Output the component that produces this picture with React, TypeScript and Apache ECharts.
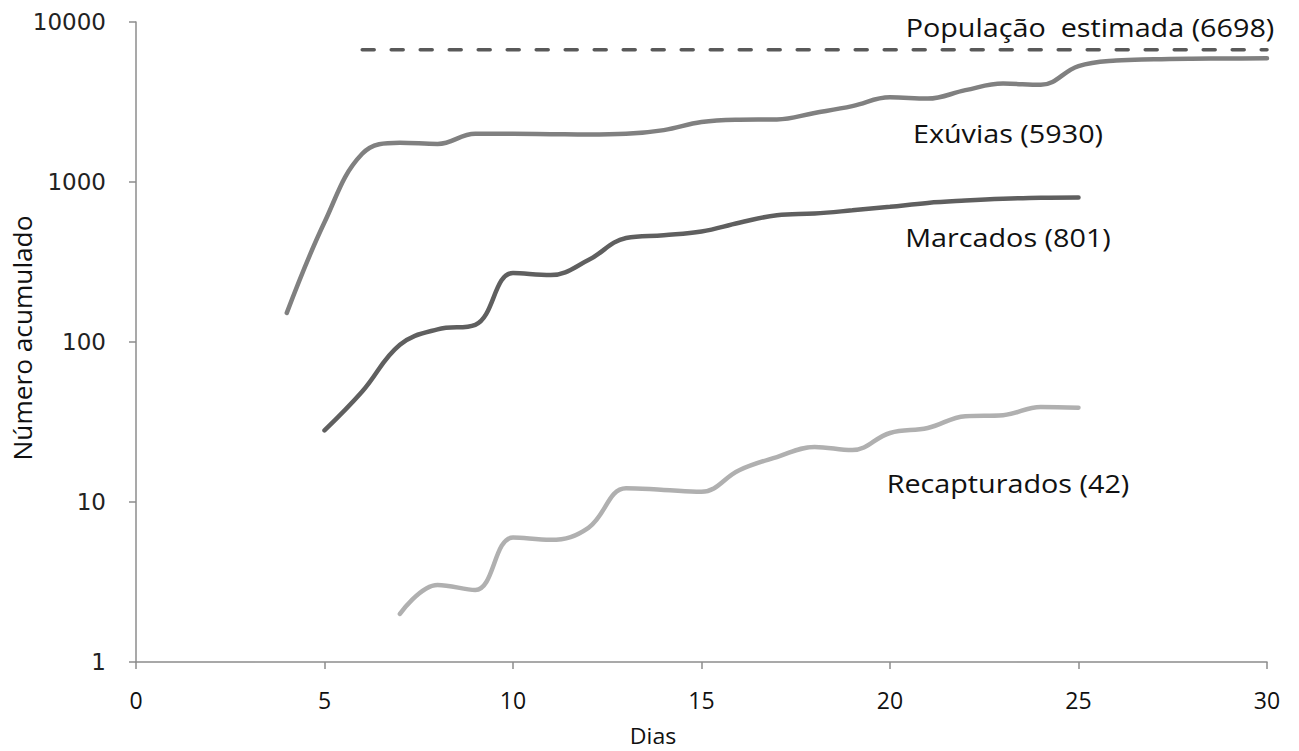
import React, { useEffect, useRef } from "react";
import * as echarts from "echarts";

const exuviasDays = [4, 5, 6, 7, 8, 9, 10, 11, 12, 13, 14, 15, 16, 17, 18, 19, 20, 21, 22, 23, 24, 25, 26, 27, 28, 29, 30];
const exuviasValues = [152, 560, 1500, 1760, 1730, 2000, 2000, 1990, 1980, 2000, 2110, 2370, 2450, 2460, 2700, 2980, 3380, 3320, 3750, 4120, 4050, 5300, 5750, 5850, 5900, 5920, 5930];

const marcadosDays = [5, 6, 7, 8, 9, 10, 11, 12, 13, 14, 15, 16, 17, 18, 19, 20, 21, 22, 23, 24, 25];
const marcadosValues = [28, 49, 96, 120, 128, 270, 262, 325, 447, 465, 490, 556, 620, 635, 665, 700, 740, 765, 785, 798, 801];

const recapDays = [7, 8, 9, 10, 11, 12, 13, 14, 15, 16, 17, 18, 19, 20, 21, 22, 23, 24, 25];
const recapValues = [2, 3.03, 2.82, 6.0, 5.8, 6.9, 12.2, 11.9, 11.6, 15.8, 19.1, 22.1, 21.1, 27, 29, 34.4, 34.9, 39.3, 38.8];

const populacaoDays = [6, 30];
const populacaoValue = 6698;

const yTicks = [1, 10, 100, 1000, 10000];

const labelPopulacao = "População  estimada (6698)";
const labelExuvias = "Exúvias (5930)";
const labelMarcados = "Marcados (801)";
const labelRecap = "Recapturados (42)";
const xAxisName = "Dias";
const yAxisName = "Número acumulado";

const pairs = (days: number[], vals: number[]) => days.map((d, i) => [d, vals[i]]);

export default function App() {
  const ref = useRef<HTMLDivElement>(null);
  useEffect(() => {
    if (!ref.current) return;
    const chart = echarts.init(ref.current, null, { renderer: "svg" });
    const textFont = "'Open Sans', sans-serif";
    const lbl = (text: string, x: number, y: number, size = 25, sx = 1.15, rotation = 0) => ({
      type: "text",
      x,
      y,
      scaleX: sx,
      rotation,
      style: {
        text,
        fill: "#111",
        font: `${size}px ${textFont}`,
        align: "center",
        verticalAlign: "middle",
      },
    });
    chart.setOption({
      animation: false,
      backgroundColor: "#fff",
      grid: { left: 136, right: 32, top: 22, bottom: 89, containLabel: false },
      xAxis: {
        type: "value",
        min: 0,
        max: 30,
        interval: 5,
        axisLine: { lineStyle: { color: "#8c8c8c", width: 1.5 } },
        axisTick: { show: true, length: 7, lineStyle: { color: "#8c8c8c", width: 1.5 } },
        axisLabel: { fontFamily: textFont, fontSize: 23, color: "#111", margin: 26 },
        splitLine: { show: false },
      },
      yAxis: {
        type: "log",
        logBase: 10,
        min: 1,
        max: 10000,
        axisLine: { show: true, lineStyle: { color: "#8c8c8c", width: 1.5 } },
        axisTick: { show: true, length: 7, lineStyle: { color: "#8c8c8c", width: 1.5 } },
        axisLabel: {
          fontFamily: "'DejaVu Sans', sans-serif",
          fontSize: 23,
          color: "#222",
          margin: 30,
          formatter: (v: number) => (yTicks.includes(Math.round(v)) ? String(Math.round(v)) : ""),
        },
        splitLine: { show: false },
      },
      series: [
        {
          name: "População estimada",
          type: "line",
          data: populacaoDays.map((d) => [d, populacaoValue]),
          symbol: "none",
          lineStyle: { color: "#595959", width: 3.5, type: [12, 17], cap: "round" },
        },
        {
          name: "Exúvias",
          type: "line",
          data: pairs(exuviasDays, exuviasValues),
          symbol: "none",
          smooth: 0.4,
          lineStyle: { color: "#808080", width: 4.5, cap: "round" },
        },
        {
          name: "Marcados",
          type: "line",
          data: pairs(marcadosDays, marcadosValues),
          symbol: "none",
          smooth: 0.4,
          lineStyle: { color: "#5f5f5f", width: 4.5, cap: "round" },
        },
        {
          name: "Recapturados",
          type: "line",
          data: pairs(recapDays, recapValues),
          symbol: "none",
          smooth: 0.4,
          lineStyle: { color: "#b0b0b0", width: 4.5, cap: "round" },
        },
      ],
      graphic: [
        lbl(labelPopulacao, 1090, 27),
        lbl(labelExuvias, 1008, 133),
        lbl(labelMarcados, 1008, 237),
        lbl(labelRecap, 1008, 483),
        lbl(xAxisName, 653, 736, 22, 1.05),
        lbl(yAxisName, 23, 338, 25, 1.05, Math.PI / 2),
      ],
    });
    return () => chart.dispose();
  }, []);
  return (
    <div
      ref={ref}
      style={{ position: "fixed", left: 0, top: 0, width: 1299, height: 751, background: "#fff" }}
    />
  );
}
